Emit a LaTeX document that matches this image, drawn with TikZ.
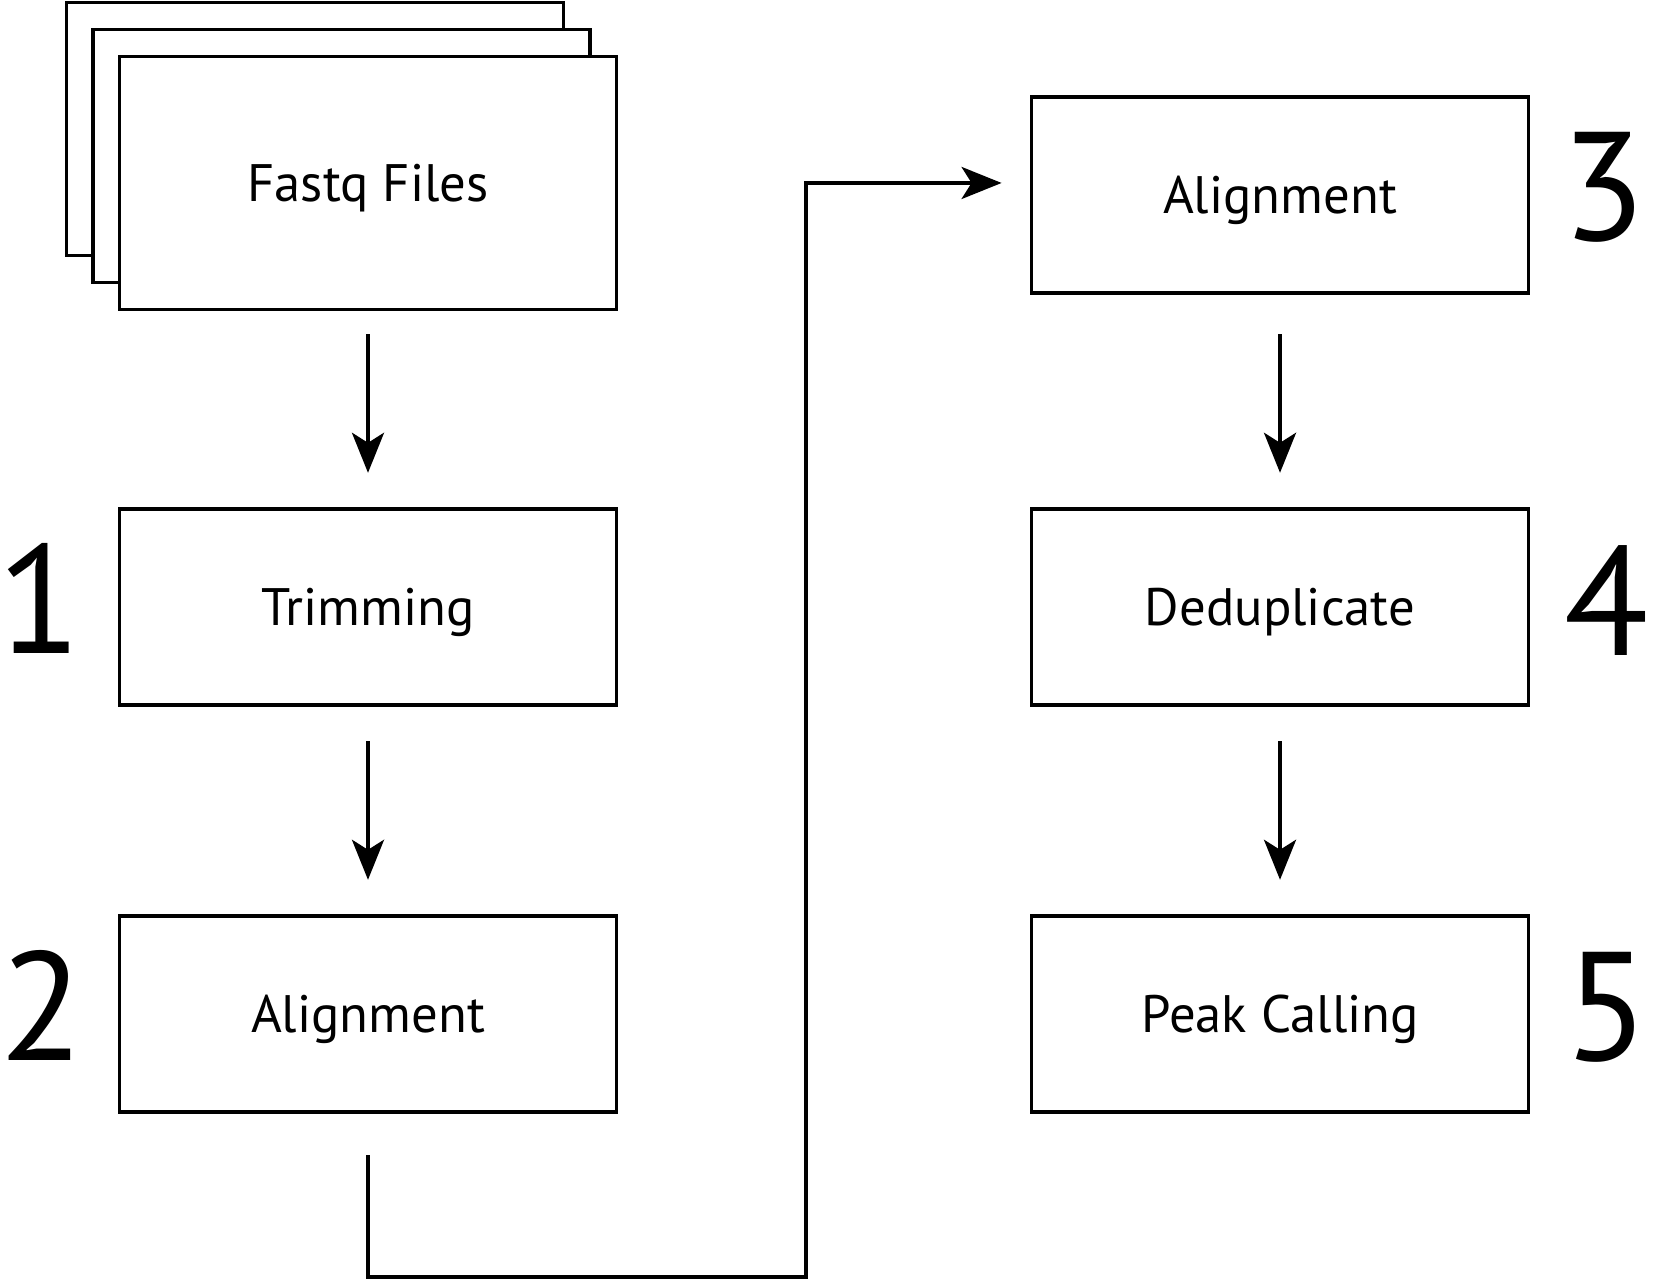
\documentclass[tikz,border=0pt]{standalone}
\usepackage{fontspec}
\setmainfont{PT Sans}
\usepackage{tikz}
\usetikzlibrary{arrows.meta, positioning, calc}

\tikzset{
  stepbox/.style={draw=black, line width=1.1pt, fill=white, minimum width=4.97cm,
    minimum height=1.965cm, inner sep=0pt, font=\fontsize{15}{18}\selectfont,
    text height=0.37cm, text depth=0pt},
  filebox/.style={stepbox, minimum height=2.53cm},
  stepnum/.style={anchor=base, inner sep=0pt, font=\fontsize{44}{52}\selectfont},
  flow/.style={line width=1.1pt, -{Stealth[length=0.4cm, width=0.32cm, inset=0.1cm]}}
}

\begin{document}
\begin{tikzpicture}
  \useasboundingbox (0, 0) rectangle (16.55, 12.8);

  % Stack of input files
  \node[filebox] (fastqback) at (3.15, 11.51) {};
  \node[filebox] (fastqmid) at (3.415, 11.24) {};
  \node[filebox] (fastq) at (3.68, 10.97) {Fastq Files};

  % Left column
  \node[stepbox] (trim) at (3.68, 6.73) {Trimming};
  \node[stepbox] (alignA) at (3.68, 2.66) {Alignment};

  % Right column
  \node[stepbox] (alignB) at (12.80, 10.85) {Alignment};
  \node[stepbox] (dedup) at (12.80, 6.73) {Deduplicate};
  \node[stepbox] (peaks) at (12.80, 2.66) {Peak Calling};

  % Step numbers
  \node[stepnum] (num1) at (0.40, 6.26) {1};
  \node[stepnum] (num2) at (0.42, 2.19) {2};
  \node[stepnum] (num3) at (16.04, 10.39) {3};
  \node[stepnum] (num4) at (16.07, 6.24) {4};
  \node[stepnum] (num5) at (16.07, 2.19) {5};

  % Arrows down the columns
  \draw[flow] ([yshift=-0.23cm]fastq.south) -- ([yshift=0.34cm]trim.north);
  \draw[flow] ([yshift=-0.34cm]trim.south) -- ([yshift=0.34cm]alignA.north);
  \draw[flow] ([yshift=-0.39cm]alignB.south) -- ([yshift=0.34cm]dedup.north);
  \draw[flow] ([yshift=-0.34cm]dedup.south) -- ([yshift=0.34cm]peaks.north);

  % Link from the left column to the right one
  \coordinate (turn) at (8.06, 0.03);
  \draw[flow] ([yshift=-0.41cm]alignA.south) |- (turn) |- ([xshift=-0.28cm, yshift=0.12cm]alignB.west);
\end{tikzpicture}
\end{document}
